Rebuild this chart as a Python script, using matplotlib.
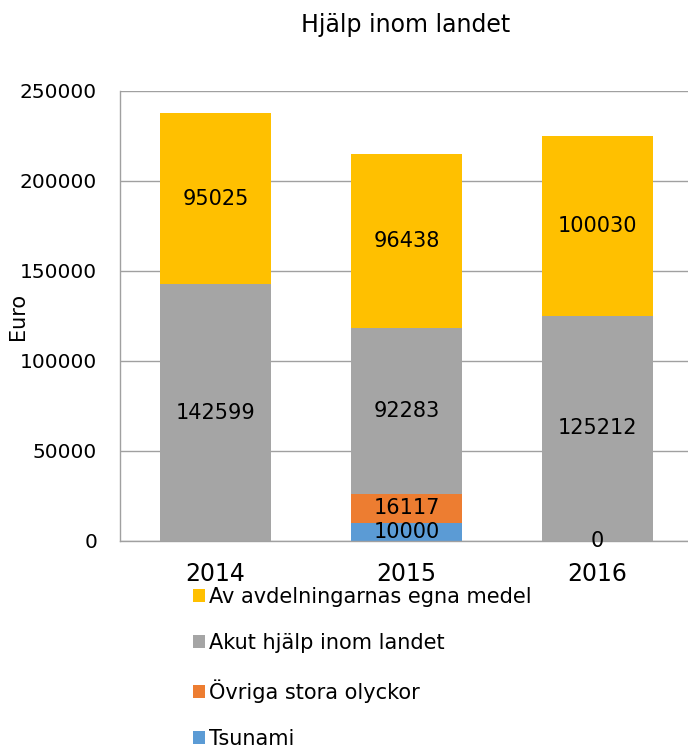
import numpy as np
import matplotlib
matplotlib.use("Agg")
import matplotlib.pyplot as plt
from matplotlib.patches import Patch

plt.rcParams['font.family'] = ['DejaVu Sans']

years = ["2014", "2015", "2016"]
tsunami = [np.nan, 10000, 0]
ovriga = [np.nan, 16117, np.nan]
akut = [142599, 92283, 125212]
egna = [95025, 96438, 100030]

series = [
    ("Tsunami", tsunami, "#5B9BD5"),
    ("Övriga stora olyckor", ovriga, "#ED7D31"),
    ("Akut hjälp inom landet", akut, "#A5A5A5"),
    ("Av avdelningarnas egna medel", egna, "#FFC000"),
]

W, H = 688, 745
fig = plt.figure(figsize=(W / 100, H / 100), dpi=100)
ax = fig.add_axes([120 / W, (H - 541) / H, 573 / W, 450 / H])

x = np.arange(len(years))
bottom = np.zeros(len(years))
for name, vals, col in series:
    v = np.array(vals, dtype=float)
    ax.bar(x, np.nan_to_num(v), width=0.576, bottom=bottom, color=col, zorder=2)
    for i, val in enumerate(v):
        if not np.isnan(val):
            ax.text(x[i], bottom[i] + val / 2, f"{int(val)}", ha="center",
                    va="center", fontsize=15, color="black", zorder=3)
    bottom += np.nan_to_num(v)

ax.set_xlim(-0.5, 2.5)
ax.set_ylim(0, 250000)
ax.set_yticks(np.arange(0, 250001, 50000))
ax.set_xticks(x)
ax.set_xticklabels(years, fontsize=17)
ax.tick_params(axis="x", length=0, pad=15)
ax.tick_params(axis="y", length=0, pad=16.5, labelsize=14.5)
ax.yaxis.grid(True, color="#A0A0A0", linewidth=1, zorder=0)
ax.set_axisbelow(True)
for s in ["top", "right"]:
    ax.spines[s].set_visible(False)
for s in ["left", "bottom"]:
    ax.spines[s].set_color("#A0A0A0")
    ax.spines[s].set_linewidth(1)
ax.set_ylabel("Euro", fontsize=15)
ax.yaxis.set_label_coords(-(120 - 18) / 573, 0.5)
ax.yaxis.label.set_va("center")

fig.text(406 / W, 1 - 25 / H, "Hjälp inom landet", ha="center", va="center", fontsize=17)

handles = [Patch(facecolor=c, edgecolor="none") for _, _, c in series][::-1]
labels = [n for n, _, _ in series][::-1]
fig.legend(handles, labels, loc="upper left",
           bbox_to_anchor=(193 / W, 1 - 587 / H), bbox_transform=fig.transFigure,
           frameon=False, fontsize=15, borderpad=0, borderaxespad=0,
           handlelength=0.58, handleheight=0.58, handletextpad=0.2,
           labelspacing=1.25)

fig.savefig("out.png", dpi=100)
